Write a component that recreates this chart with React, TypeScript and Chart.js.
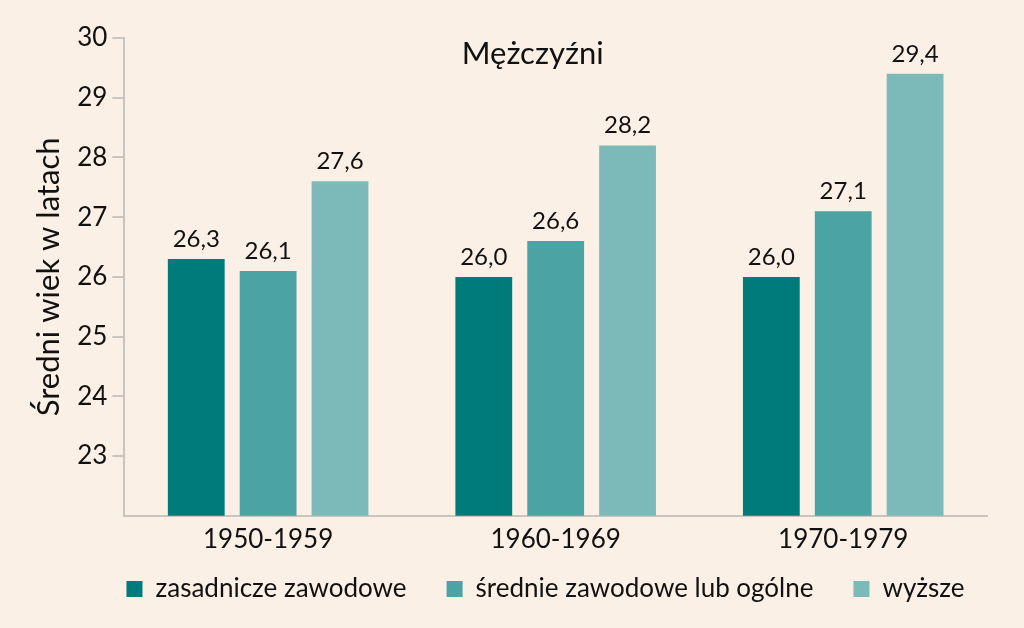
import React, { useEffect, useRef } from "react";
import { Chart, registerables } from "chart.js";

Chart.register(...registerables);

const categories = ["1950-1959", "1960-1969", "1970-1979"];
const seriesNames = ["zasadnicze zawodowe", "średnie zawodowe lub ogólne", "wyższe"];
const zasadnicze = [26.3, 26.0, 26.0];
const srednie = [26.1, 26.6, 27.1];
const wyzsze = [27.6, 28.2, 29.4];
const colors = ["#007b7b", "#4ba3a3", "#7bbab8"];
const yMin = 22;
const yMax = 30;
const titleText = "Mężczyźni";
const yTitle = "Średni wiek w latach";

const FONT = "Lato, 'Noto Sans', sans-serif";

export default function App() {
  const ref = useRef<HTMLCanvasElement | null>(null);
  useEffect(() => {
    if (!ref.current) return;
    const valueLabels = {
      id: "valueLabels",
      afterDatasetsDraw(chart: any) {
        const ctx = chart.ctx;
        ctx.save();
        ctx.font = `24px ${FONT}`;
        ctx.fillStyle = "#111";
        ctx.textAlign = "center";
        ctx.textBaseline = "bottom";
        chart.data.datasets.forEach((ds: any, i: number) => {
          const meta = chart.getDatasetMeta(i);
          meta.data.forEach((el: any, j: number) => {
            const v = ds.data[j] as number;
            ctx.fillText(v.toFixed(1).replace(".", ","), el.x, el.y - 8);
          });
        });
        const a = chart.chartArea;
        ctx.font = `31px ${FONT}`;
        ctx.textBaseline = "middle";
        ctx.fillText(titleText, (a.left + a.right) / 2 - 23, a.top + 16);
        ctx.restore();
      },
    };
    const legendShift = {
      id: "legendShift",
      afterLayout(chart: any) {
        const lg = chart.legend;
        if (lg) {
          lg.top -= 27;
          lg.bottom -= 27;
          lg.left += 37;
          lg.right += 37;
        }
      },
    };
    const bg = {
      id: "bg",
      beforeDraw(chart: any) {
        const ctx = chart.ctx;
        ctx.save();
        ctx.fillStyle = "#faf0e5";
        ctx.fillRect(0, 0, chart.width, chart.height);
        ctx.restore();
      },
    };
    const chart = new Chart(ref.current, {
      type: "bar",
      data: {
        labels: categories,
        datasets: [zasadnicze, srednie, wyzsze].map((d, i) => ({
          label: seriesNames[i],
          data: d,
          backgroundColor: colors[i],
          borderWidth: 0,
          categoryPercentage: 0.75,
          barPercentage: 0.79,
        })),
      },
      options: {
        animation: false,
        responsive: false,
        maintainAspectRatio: false,
        layout: { padding: { top: 38, right: 37, left: 30, bottom: -11 } },
        scales: {
          x: {
            grid: { display: false, drawTicks: false },
            border: { display: true, color: "#c9c5be", width: 2 },
            ticks: { color: "#111", font: { size: 26, family: FONT }, padding: 8 },
          },
          y: {
            min: yMin,
            max: yMax,
            grid: { display: true, drawOnChartArea: false, drawTicks: true, tickLength: 12, color: "#c9c5be", lineWidth: 2 },
            border: { display: true, color: "#c9c5be", width: 2 },
            ticks: {
              stepSize: 1,
              color: "#111",
              font: { size: 26, family: FONT },
              padding: 5,
              callback: (v: any) => (v === yMin ? null : String(v)),
            },
            title: {
              display: true,
              text: yTitle,
              color: "#111",
              font: { size: 31, family: FONT },
              padding: { top: 0, bottom: 5 },
            },
          },
        },
        plugins: {
          legend: {
            position: "bottom",
            labels: {
              color: "#111",
              font: { size: 26, family: FONT },
              boxWidth: 16,
              boxHeight: 16,
              padding: 40,
            },
          },
          tooltip: { enabled: false },
          title: { display: false },
        },
      },
      plugins: [bg, legendShift, valueLabels],
    } as any);
    return () => chart.destroy();
  }, []);
  return (
    <div style={{ position: "fixed", left: 0, top: 0, width: 1024, height: 628 }}>
      <canvas ref={ref} width={1024} height={628} style={{ display: "block" }} />
    </div>
  );
}
